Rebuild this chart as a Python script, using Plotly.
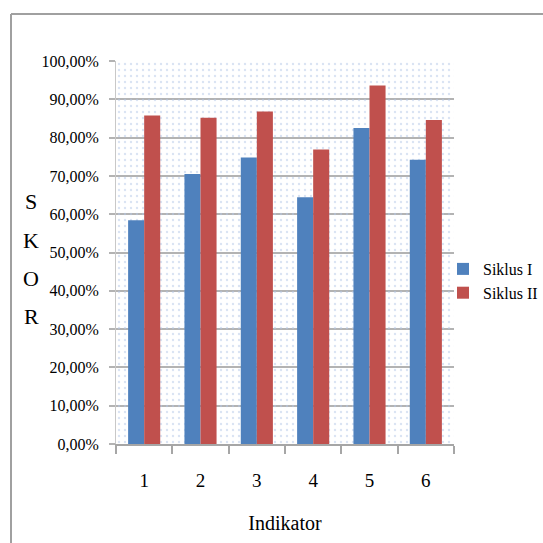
import plotly.graph_objects as go

categories = ["1", "2", "3", "4", "5", "6"]
siklus_1 = [58.4, 70.5, 74.8, 64.4, 82.5, 74.2]
siklus_2 = [85.8, 85.2, 86.8, 76.9, 93.6, 84.6]
series_names = ["Siklus I", "Siklus II"]
colors = ["#4F81BD", "#C0504D"]
y_ticks = [0, 10, 20, 30, 40, 50, 60, 70, 80, 90, 100]
y_tick_text = [f"{v},00%" for v in y_ticks]
y_title_letters = ["S", "K", "O", "R"]

W = H = 543
L, R, T, B = 116, 89, 61, 99
pw, ph = W - L - R, H - T - B

def px_x(p):
    return (p - L) / pw

def px_y(p):
    return (H - B - p) / ph

font_family = "Liberation Serif, Times New Roman, serif"

fig = go.Figure()

# dotted background of the plot area (on hidden base axis)
fig.add_trace(go.Bar(
    x=[0.5], y=[max(y_ticks)], width=[1], xaxis="x", yaxis="y",
    marker=dict(color="rgba(0,0,0,0)", line=dict(width=0),
                pattern=dict(shape=".", fgcolor="#b3c8e8", size=6, solidity=0.12,
                             fillmode="overlay")),
    showlegend=False, hoverinfo="skip"))

for name, vals, c in zip(series_names, [siklus_1, siklus_2], colors):
    fig.add_trace(go.Bar(x=categories, y=vals, name=name, marker_color=c,
                         marker_line_width=0, xaxis="x2", yaxis="y"))

fig.update_layout(
    width=W, height=H,
    margin=dict(l=L, r=R, t=T, b=B, autoexpand=False),
    paper_bgcolor="white", plot_bgcolor="white",
    font=dict(family=font_family, color="black", size=17),
    barmode="group", bargap=0.43, bargroupgap=0,
    xaxis=dict(visible=False, range=[0, 1], fixedrange=True),
    xaxis2=dict(overlaying="x", anchor="y", side="bottom", type="category",
                showgrid=False, showline=True, linecolor="#a6a6a6", linewidth=2,
                ticks="outside", tickson="boundaries", ticklen=8, tickcolor="#a6a6a6",
                tickwidth=1.5, tickfont=dict(size=19), ticklabelstandoff=18,
                title=dict(text="Indikator", font=dict(size=20), standoff=26)),
    yaxis=dict(range=[0, 100], tickvals=y_ticks, ticktext=y_tick_text,
               showgrid=True, gridcolor="#b3b3b3", gridwidth=2,
               showline=True, linecolor="#c8c8c8", linewidth=1,
               ticks="outside", ticklen=6, tickcolor="#b3b3b3", tickwidth=2,
               tickfont=dict(size=16), ticklabelstandoff=7, zeroline=False),
    legend=dict(xref="container", yref="container", x=443 / W, y=1 - 281 / H,
                xanchor="left", yanchor="middle",
                font=dict(size=16), bgcolor="rgba(0,0,0,0)", tracegroupgap=2),
    showlegend=True,
)

# outer frame (top and left edges)
frame = dict(type="line", xref="paper", yref="paper",
             line=dict(color="#a0a0a0", width=2))
fig.add_shape(**frame, x0=px_x(11), y0=px_y(14), x1=px_x(545), y1=px_y(14))
fig.add_shape(**frame, x0=px_x(11), y0=px_y(14), x1=px_x(11), y1=px_y(545))

# vertical stacked y-axis title
for i, ch in enumerate(y_title_letters):
    fig.add_annotation(text=ch, xref="paper", yref="paper",
                       x=px_x(31), y=px_y(202 + 38 * i), showarrow=False,
                       xanchor="center", yanchor="middle", font=dict(size=22))

fig.write_html("out.html")
